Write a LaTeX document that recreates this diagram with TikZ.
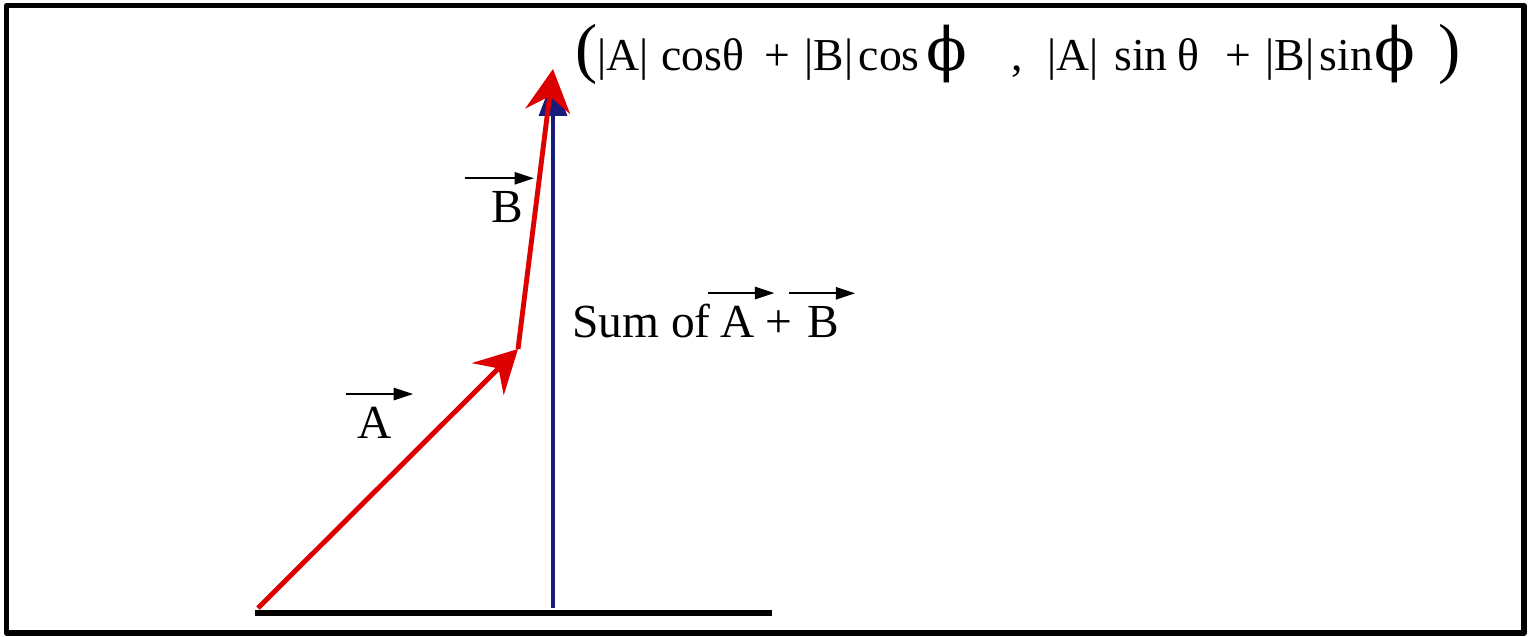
\documentclass[tikz,border=0pt]{standalone}
\usepackage{fontspec}
\setmainfont{Liberation Serif}
\newfontfamily\phifont{DejaVu Serif}
\usetikzlibrary{arrows.meta}
\definecolor{vecred}{RGB}{221,0,0}
\definecolor{sumblue}{RGB}{26,26,122}
\begin{document}
\begin{tikzpicture}[x=0.02cm, y=-0.02cm, line join=round,
	lbl/.style={font=\fontsize{27}{30}\selectfont, inner sep=0pt},
	redvec/.style={draw=vecred, line width=2.8pt, -{Stealth[length=0.85cm, width=0.9cm, inset=0.3cm]}},
	bluevec/.style={draw=sumblue, line width=2.8pt, -{Triangle[length=0.76cm, width=0.55cm]}},
	overarr/.style={line width=1.1pt, -{Triangle[length=11pt, width=7pt]}}]
	\useasboundingbox (0,0) rectangle (1533,636);
	\draw[line width=2.9pt] (6.5,5.5) rectangle (1524,633);
	\path	(258,608) coordinate (O)
		(518,349) coordinate (P)
		(553,69) coordinate (Q)
		(553,608) coordinate (S)
		(553,78) coordinate (T)
		(255,613) coordinate (G1)
		(772,613) coordinate (G2);
	\draw[line width=3.4pt] (G1)--(G2);
	\draw[bluevec] (S)--(T);
	\draw[redvec] (O)--(P);
	\draw[redvec] (P)--(Q);
	% labels
	\node[lbl, anchor=base west] (a) at (357,438) {A};
	\node[lbl, anchor=base west] (b) at (491,222) {B};
	\node[lbl, anchor=base west] (sum) at (572,337) {Sum of};
	\node[lbl, anchor=base west] (sa) at (720,337) {A};
	\node[lbl, anchor=base west] (plus) at (765,337) {+};
	\node[lbl, anchor=base west] (sb) at (807,337) {B};
	\foreach \n/\l/\r in {a/-6/12, b/-15/6, sa/-7/11, sb/-10/9}
		\draw[overarr] ([xshift=\l pt, yshift=7pt]\n.north west)--([xshift=\r pt, yshift=7pt]\n.north east);
	% resultant as a pair of components
	\node[lbl, font=\fontsize{26}{30}\selectfont, anchor=base west] (coord) at (575,70) {{\fontsize{38}{38}\selectfont(}|A|\hspace{7pt}cosθ\hspace{12pt}+\hspace{8pt}|B|\hspace{3pt}cos\hspace{4pt}{\phifont\fontsize{34}{34}\selectfont ϕ}\hspace{25pt},\hspace{14pt}|A|\hspace{9pt}sin\hspace{5.5pt}θ\hspace{15pt}+\hspace{8pt}|B|\hspace{3pt}sin\hspace{1pt}{\phifont\fontsize{34}{34}\selectfont ϕ}\hspace{13pt}{\fontsize{38}{38}\selectfont)}};
\end{tikzpicture}
\end{document}
